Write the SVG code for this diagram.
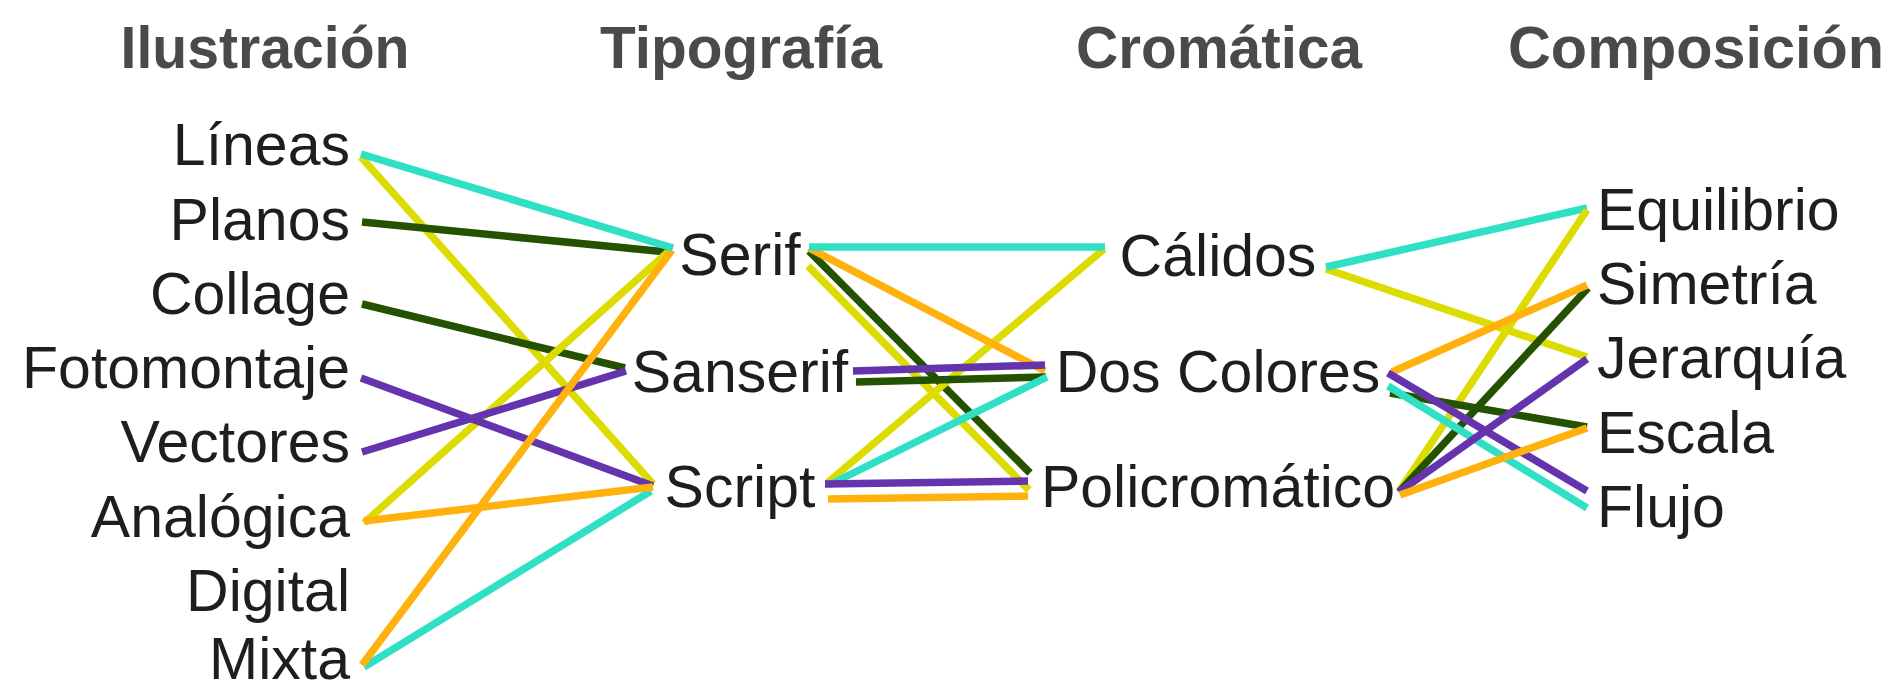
<svg xmlns="http://www.w3.org/2000/svg" width="1890" height="692" viewBox="0 0 1890 692">
  <style>
    .hdr { font-family: "Liberation Sans", Arial, sans-serif; font-weight: bold; font-size: 60px; fill: #4a4a4a; text-anchor: middle; }
    .lbl { font-family: "Liberation Sans", Arial, sans-serif; font-size: 59px; fill: #1e1e1e; }
    .end { text-anchor: end; }
    .mid { text-anchor: middle; }
    .sta { text-anchor: start; }
    .ln { stroke-width: 7.5; fill: none; stroke-linecap: butt; }
    .cy { stroke: #2fe0c4; }
    .ye { stroke: #dcdc00; }
    .gr { stroke: #245200; }
    .pu { stroke: #6434ae; }
    .or { stroke: #ffb20d; }
  </style>
  <rect width="1890" height="692" fill="#ffffff"/>

  <!-- column headings -->
  <g id="headers">
    <text class="hdr" x="265" y="68" textLength="289" lengthAdjust="spacingAndGlyphs">Ilustración</text>
    <text class="hdr" x="741" y="68" textLength="282" lengthAdjust="spacingAndGlyphs">Tipografía</text>
    <text class="hdr" x="1219" y="68" textLength="286" lengthAdjust="spacingAndGlyphs">Cromática</text>
    <text class="hdr" x="1696" y="68" textLength="376" lengthAdjust="spacingAndGlyphs">Composición</text>
  </g>

  <!-- connectors -->
  <g id="connectors">
    <!-- Ilustración to Tipografía -->
    <line class="ln ye" x1="361" y1="157" x2="653" y2="484"/>
    <line class="ln gr" x1="362" y1="222" x2="667" y2="252"/>
    <line class="ln gr" x1="362" y1="304" x2="625" y2="368"/>
    <line class="ln ye" x1="364" y1="523" x2="668" y2="252"/>
    <line class="ln pu" x1="361" y1="378" x2="653" y2="486"/>
    <line class="ln pu" x1="362" y1="452" x2="626" y2="371"/>
    <line class="ln cy" x1="364" y1="667" x2="651" y2="491"/>
    <line class="ln or" x1="364" y1="521" x2="653" y2="487"/>
    <line class="ln or" x1="362" y1="665" x2="672" y2="250"/>
    <line class="ln cy" x1="361" y1="154" x2="673" y2="248"/>

    <!-- Tipografía to Cromática -->
    <line class="ln ye" x1="808" y1="266" x2="1029" y2="490"/>
    <line class="ln gr" x1="809" y1="251" x2="1030" y2="473"/>
    <line class="ln ye" x1="827" y1="483" x2="1104" y2="249"/>
    <line class="ln or" x1="809" y1="248" x2="1045" y2="371"/>
    <line class="ln cy" x1="809" y1="247" x2="1105" y2="247"/>
    <line class="ln gr" x1="856" y1="382" x2="1046" y2="377"/>
    <line class="ln pu" x1="853" y1="371" x2="1045" y2="365"/>
    <line class="ln cy" x1="829" y1="485" x2="1047" y2="377"/>
    <line class="ln pu" x1="825" y1="484" x2="1028" y2="481"/>
    <line class="ln or" x1="828" y1="499" x2="1028" y2="496"/>

    <!-- Cromática to Composición -->
    <line class="ln ye" x1="1326" y1="269" x2="1587" y2="357"/>
    <line class="ln cy" x1="1326" y1="267" x2="1587" y2="208"/>
    <line class="ln ye" x1="1400" y1="490" x2="1587" y2="210"/>
    <line class="ln gr" x1="1399" y1="492" x2="1588" y2="288"/>
    <line class="ln gr" x1="1390" y1="393" x2="1587" y2="427"/>
    <line class="ln or" x1="1392" y1="372" x2="1587" y2="285"/>
    <line class="ln cy" x1="1388" y1="386" x2="1587" y2="508"/>
    <line class="ln pu" x1="1399" y1="492" x2="1587" y2="359"/>
    <line class="ln pu" x1="1388" y1="373" x2="1587" y2="491"/>
    <line class="ln or" x1="1400" y1="495" x2="1587" y2="428"/>
  </g>

  <!-- Ilustración column -->
  <g id="n-lineas"><text class="lbl end" x="350" y="165">Líneas</text></g>
  <g id="n-planos"><text class="lbl end" x="350" y="239.5">Planos</text></g>
  <g id="n-collage"><text class="lbl end" x="350" y="314">Collage</text></g>
  <g id="n-fotomontaje"><text class="lbl end" x="350" y="388">Fotomontaje</text></g>
  <g id="n-vectores"><text class="lbl end" x="350" y="462">Vectores</text></g>
  <g id="n-analogica"><text class="lbl end" x="350" y="537">Analógica</text></g>
  <g id="n-digital"><text class="lbl end" x="350" y="611">Digital</text></g>
  <g id="n-mixta"><text class="lbl end" x="350" y="679">Mixta</text></g>

  <!-- Tipografía column -->
  <g id="n-serif"><text class="lbl mid" x="740" y="275">Serif</text></g>
  <g id="n-sanserif"><text class="lbl mid" x="740" y="392">Sanserif</text></g>
  <g id="n-script"><text class="lbl mid" x="740" y="507">Script</text></g>

  <!-- Cromática column -->
  <g id="n-calidos"><text class="lbl mid" x="1218" y="276">Cálidos</text></g>
  <g id="n-dos-colores"><text class="lbl mid" x="1218" y="392">Dos Colores</text></g>
  <g id="n-policromatico"><text class="lbl mid" x="1218" y="507">Policromático</text></g>

  <!-- Composición column -->
  <g id="n-equilibrio"><text class="lbl sta" x="1597" y="230">Equilibrio</text></g>
  <g id="n-simetria"><text class="lbl sta" x="1597" y="304">Simetría</text></g>
  <g id="n-jerarquia"><text class="lbl sta" x="1597" y="378">Jerarquía</text></g>
  <g id="n-escala"><text class="lbl sta" x="1597" y="453">Escala</text></g>
  <g id="n-flujo"><text class="lbl sta" x="1597" y="527">Flujo</text></g>
</svg>
